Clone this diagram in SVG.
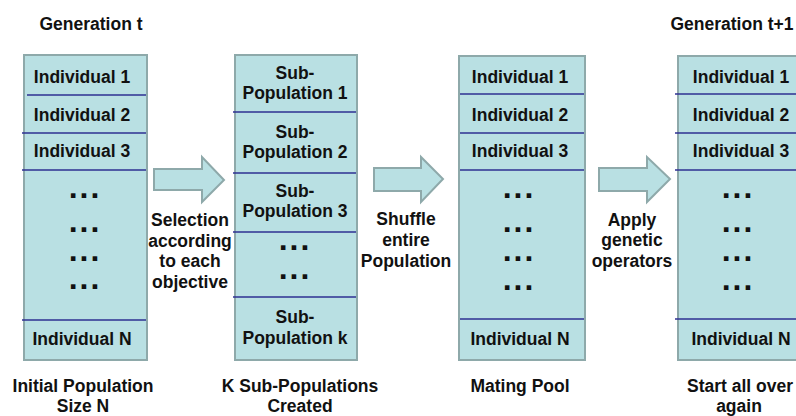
<svg xmlns="http://www.w3.org/2000/svg" width="796" height="416" viewBox="0 0 796 416">
<style>
.box{fill:#b9e0e3;stroke:#8ea9aa;stroke-width:2}
.div{stroke:#2e3192;stroke-width:1.6}
.arrow{fill:#b9e0e3;stroke:#8ea9aa;stroke-width:2;stroke-linejoin:miter}
text{font-family:"Liberation Sans",Arial,sans-serif;font-weight:bold;font-size:17.5px;fill:#111;text-anchor:middle}
.dots{font-size:32px;letter-spacing:2px}
</style>
<rect width="796" height="416" fill="#fff"/>
<g id="title-left"><text x="91" y="30">Generation t</text></g>
<g id="title-right"><text x="732" y="30">Generation t+1</text></g>

<g id="initial-population">
<rect class="box" x="24" y="55" width="123" height="305"/>
<line class="div" x1="27" y1="95" x2="146" y2="95"/>
<line class="div" x1="22" y1="133" x2="146" y2="133"/>
<line class="div" x1="22" y1="170" x2="146" y2="170"/>
<line class="div" x1="22" y1="320" x2="146" y2="320"/>
<text x="82" y="83">Individual 1</text>
<text x="82" y="121">Individual 2</text>
<text x="82" y="157">Individual 3</text>
<text class="dots" x="85" y="198">...</text>
<text class="dots" x="85" y="232">...</text>
<text class="dots" x="85" y="261">...</text>
<text class="dots" x="85" y="289">...</text>
<text x="82" y="345">Individual N</text>
<text x="83" y="392">Initial Population</text>
<text x="83" y="412">Size N</text>
</g>

<g id="sub-populations">
<rect class="box" x="235" y="55" width="122" height="305"/>
<line class="div" x1="233" y1="112" x2="356" y2="112"/>
<line class="div" x1="233" y1="173" x2="356" y2="173"/>
<line class="div" x1="233" y1="232" x2="356" y2="232"/>
<line class="div" x1="233" y1="297" x2="356" y2="297"/>
<text x="295" y="79">Sub-</text>
<text x="295" y="99">Population 1</text>
<text x="295" y="138">Sub-</text>
<text x="295" y="158">Population 2</text>
<text x="295" y="197">Sub-</text>
<text x="295" y="217">Population 3</text>
<text class="dots" x="295" y="250">...</text>
<text class="dots" x="295" y="279">...</text>
<text x="295" y="323">Sub-</text>
<text x="295" y="344">Population k</text>
<text x="300" y="392">K Sub-Populations</text>
<text x="300" y="412">Created</text>
</g>

<g id="mating-pool">
<rect class="box" x="459" y="56" width="126" height="304"/>
<line class="div" x1="460" y1="94" x2="584" y2="94"/>
<line class="div" x1="460" y1="133" x2="584" y2="133"/>
<line class="div" x1="460" y1="170" x2="584" y2="170"/>
<line class="div" x1="460" y1="319" x2="584" y2="319"/>
<text x="520" y="83">Individual 1</text>
<text x="520" y="121">Individual 2</text>
<text x="520" y="157">Individual 3</text>
<text class="dots" x="519" y="198">...</text>
<text class="dots" x="519" y="232">...</text>
<text class="dots" x="519" y="261">...</text>
<text class="dots" x="519" y="290">...</text>
<text x="520" y="345">Individual N</text>
<text x="520" y="392">Mating Pool</text>
</g>

<g id="next-generation">
<rect class="box" x="678" y="56" width="126" height="304"/>
<line class="div" x1="675" y1="94" x2="800" y2="94"/>
<line class="div" x1="675" y1="133" x2="800" y2="133"/>
<line class="div" x1="675" y1="170" x2="800" y2="170"/>
<line class="div" x1="675" y1="319" x2="800" y2="319"/>
<text x="741" y="83">Individual 1</text>
<text x="741" y="121">Individual 2</text>
<text x="741" y="157">Individual 3</text>
<text class="dots" x="738" y="198">...</text>
<text class="dots" x="738" y="232">...</text>
<text class="dots" x="738" y="261">...</text>
<text class="dots" x="738" y="290">...</text>
<text x="741" y="345">Individual N</text>
<text x="740" y="392">Start all over</text>
<text x="739" y="412">again</text>
</g>

<g id="connectors">
<polygon class="arrow" points="154,169 202,169 202,157 224,180 202,202 202,190 154,190"/>
<polygon class="arrow" points="374,168 421,168 421,157 443,179 421,202 421,191 374,191"/>
<polygon class="arrow" points="599,168 647,168 647,157 670,179 647,202 647,191 599,191"/>
<text x="190" y="226">Selection</text>
<text x="190" y="247">according</text>
<text x="190" y="267">to each</text>
<text x="190" y="288">objective</text>
<text x="406" y="225">Shuffle</text>
<text x="406" y="246">entire</text>
<text x="406" y="267">Population</text>
<text x="632" y="226">Apply</text>
<text x="632" y="246">genetic</text>
<text x="632" y="267">operators</text>
</g>
</svg>
